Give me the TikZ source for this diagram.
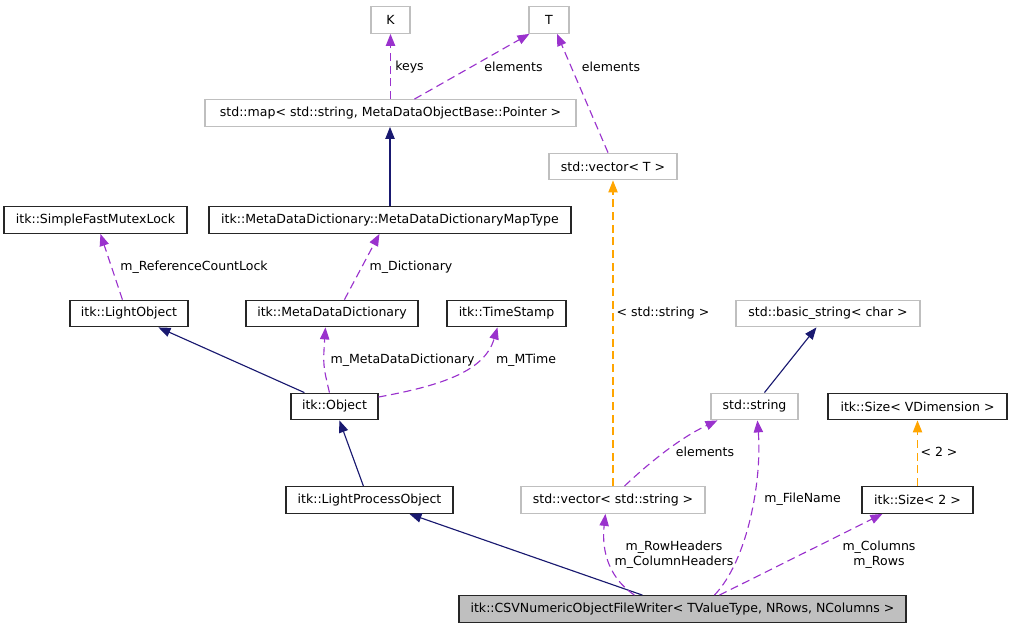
\documentclass[tikz,border=0pt]{standalone}
\usepackage{fontspec}
\setmainfont{DejaVu Sans}
\usetikzlibrary{arrows.meta,calc}
\definecolor{mpurple}{HTML}{9A32CD}
\definecolor{mnavy}{HTML}{191970}
\definecolor{morange}{HTML}{FFA500}
\definecolor{mgray}{HTML}{BFBFBF}
\tikzset{
  base/.style={font=\fontsize{9.4pt}{11.25pt}\selectfont, inner sep=0pt, minimum height=20pt, line width=0.85pt},
  cbox/.style={base, draw=black!85},
  gbox/.style={base, draw=mgray},
  hbox/.style={base, draw=black!85, fill=mgray},
  lbl/.style={font=\fontsize{9.4pt}{11.25pt}\selectfont, inner sep=0pt, align=center},
  inh/.style={draw=mnavy, line width=0.85pt, arrows={-{Triangle[length=9pt,width=7pt,fill=mnavy]}}},
  mem/.style={draw=mpurple, line width=0.85pt, dash pattern=on 6pt off 3.5pt, arrows={-{Triangle[length=9pt,width=7pt,fill=mpurple]}}},
  tpl/.style={draw=morange, line width=0.85pt, dash pattern=on 6pt off 3.5pt, arrows={-{Triangle[length=9pt,width=7pt,fill=morange]}}},
}
\begin{document}
\begin{tikzpicture}[x=0.75pt,y=-0.75pt]
\useasboundingbox (0,0) rectangle (1012,629);
% nodes
\node[gbox, minimum width=29.25pt] (K) at (390.5,20) {K};
\node[gbox, minimum width=30pt] (T) at (549,20) {T};
\node[gbox, minimum width=278.25pt] (map) at (390.5,113) {std::map< std::string, MetaDataObjectBase::Pointer >};
\node[cbox, minimum width=137.25pt] (sfml) at (95.5,220) {itk::SimpleFastMutexLock};
\node[cbox, minimum width=271.5pt] (mt) at (390,220) {itk::MetaDataDictionary::MetaDataDictionaryMapType};
\node[gbox, minimum width=96pt] (vecT) at (613,166.5) {std::vector< T >};
\node[cbox, minimum width=88.5pt] (lo) at (129,313.5) {itk::LightObject};
\node[cbox, minimum width=129pt] (mdd) at (332,313.5) {itk::MetaDataDictionary};
\node[cbox, minimum width=89.25pt] (ts) at (506.5,313.5) {itk::TimeStamp};
\node[gbox, minimum width=138pt] (bs) at (828,313.5) {std::basic\_string< char >};
\node[cbox, minimum width=65.25pt] (obj) at (334.5,406.5) {itk::Object};
\node[gbox, minimum width=65.25pt] (str) at (754.5,406.5) {std::string};
\node[cbox, minimum width=134.25pt] (sv) at (917.5,406.5) {itk::Size< VDimension >};
\node[cbox, minimum width=125.25pt] (lpo) at (369.5,500) {itk::LightProcessObject};
\node[gbox, minimum width=138pt] (vs) at (613,500) {std::vector< std::string >};
\node[cbox, minimum width=83.25pt] (s2) at (917.5,500) {itk::Size< 2 >};
\node[hbox, minimum width=335.25pt] (csv) at (682.5,609) {itk::CSVNumericObjectFileWriter< TValueType, NRows, NColumns >};
% edges
\draw[mem] (map.north -| K.south) -- (K.south);
\draw[mem] ($(map.north west)+(210,0)$) -- ($(T.south west)+(1,0)$);
\draw[mem] ($(vecT.north)+(-5,0)$) -- ($(T.south)+(8,0)$);
\draw[inh] (mt.north) -- (map.south -| mt.north);
\draw[mem] ($(lo.north west)+(53,0)$) -- ($(sfml.south west)+(97,0)$);
\draw[mem] ($(mdd.north west)+(99,0)$) -- ($(mt.south west)+(171,0)$);
\draw[inh] ($(obj.north west)+(14,0)$) -- ($(lo.south west)+(89,0)$);
\draw[mem] ($(obj.north west)+(39,0)$) .. controls (323,365) .. ($(mdd.south west)+(80,0)$);
\draw[mem] ($(obj.east)+(0,-9.5)$) .. controls (445,385) and (485,370) .. ($(ts.south west)+(51,0)$);
\draw[inh] ($(lpo.north west)+(78,0)$) -- ($(obj.south west)+(49,0)$);
\draw[inh] ($(csv.north west)+(184,0)$) -- ($(lpo.south west)+(124,0)$);
\draw[inh] ($(str.north west)+(54,0)$) -- ($(bs.south west)+(81,0)$);
\draw[tpl] (vs.north) -- (vecT.south -| vs.north);
\draw[mem] ($(vs.north west)+(104,0)$) .. controls (650,462) and (680,438) .. ($(str.south west)+(7,0)$);
\draw[tpl] (s2.north) -- (sv.south);
\draw[mem] ($(csv.north west)+(176,0)$) .. controls (605,575) and (602,545) .. ($(vs.south west)+(85,0)$);
\draw[mem] ($(csv.north west)+(256,0)$) .. controls (748,560) and (762,480) .. ($(str.south west)+(47,0)$);
\draw[mem] ($(csv.north west)+(261,0)$) -- ($(s2.south west)+(21,0)$);
% labels
\node[lbl, anchor=west] (lkeys) at (395,67) {keys};
\node[lbl] (lel1) at (513.5,67) {elements};
\node[lbl] (lel2) at (611,67) {elements};
\node[lbl] (lrcl) at (194,267) {m\_ReferenceCountLock};
\node[lbl] (ldict) at (411,267) {m\_Dictionary};
\node[lbl] (lmdd) at (402.5,360) {m\_MetaDataDictionary};
\node[lbl] (lmt) at (526,360) {m\_MTime};
\node[lbl] (lstd) at (663,313) {< std::string >};
\node[lbl] (lel3) at (705,452) {elements};
\node[lbl] (l2) at (939,452) {< 2 >};
\node[lbl] (lfn) at (802.5,499) {m\_FileName};
\node[lbl] (lrh) at (674,555) {m\_RowHeaders\\m\_ColumnHeaders};
\node[lbl] (lcol) at (879,555) {m\_Columns\\m\_Rows};
\end{tikzpicture}
\end{document}
